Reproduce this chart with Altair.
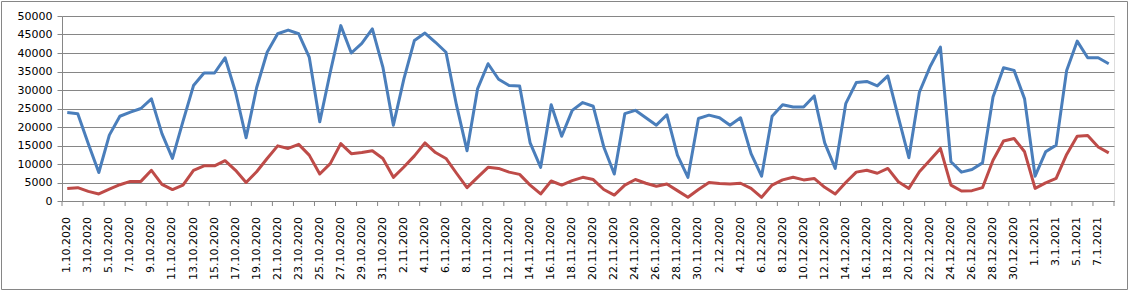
import altair as alt
import pandas as pd

# ---- data ----
start_date = "2020-10-01"
blue_values = [23900, 23600, 15500, 7700, 17800, 22900, 24000, 25000, 27600, 18200,
               11500, 21500, 31200, 34600, 34600, 38700, 29400, 17100, 30600, 40200,
               45200, 46200, 45200, 38900, 21400, 34800, 47400, 40000, 42600, 46500,
               36200, 20500, 33000, 43400, 45400, 42900, 40200, 25900, 13600, 30300,
               37100, 32900, 31200, 31100, 15700, 9100, 26000, 17500, 24500, 26600,
               25600, 14600, 7300, 23600, 24500, 22500, 20500, 23300, 12400, 6400,
               22300, 23200, 22500, 20500, 22500, 12800, 6700, 22900, 26000, 25400,
               25400, 28400, 15700, 8800, 26300, 32000, 32300, 31100, 33800, 22700,
               11700, 29400, 36200, 41600, 10600, 7800, 8500, 10300, 28100, 36000,
               35300, 27600, 6700, 13300, 15100, 35300, 43200, 38700, 38700, 37100]
red_values = [3400, 3600, 2600, 1900, 3200, 4400, 5300, 5300, 8300, 4500,
              3100, 4300, 8300, 9500, 9500, 10900, 8300, 5000, 7900, 11500,
              14900, 14200, 15300, 12400, 7300, 10100, 15500, 12800, 13100, 13600,
              11500, 6400, 9200, 12200, 15700, 13100, 11500, 7500, 3600, 6400,
              9100, 8800, 7800, 7200, 4300, 1900, 5400, 4300, 5500, 6400,
              5800, 3100, 1600, 4300, 5800, 4800, 4000, 4600, 2800, 1000,
              3100, 5000, 4700, 4600, 4800, 3400, 1000, 4300, 5700, 6400,
              5700, 6100, 3700, 1900, 5000, 7800, 8300, 7500, 8800, 5200,
              3400, 7900, 11000, 14200, 4300, 2700, 2800, 3600, 11000, 16200,
              16900, 13300, 3400, 4900, 6100, 12600, 17500, 17700, 14600, 13000]
y_ticks = list(range(0, 50001, 5000))

n = len(blue_values)
assert n == len(red_values) == 100
dates = pd.date_range(start_date, periods=n, freq="D")
date_labels = [f"{d.day}.{d.month}.{d.year}" for d in dates]

rows = []
for i in range(n):
    rows.append({"i": i, "date": date_labels[i], "series": "A", "value": blue_values[i]})
    rows.append({"i": i, "date": date_labels[i], "series": "B", "value": red_values[i]})
df = pd.DataFrame(rows)

label_df = pd.DataFrame({"i": list(range(0, n, 2)), "date": date_labels[0::2]})
tick_df = pd.DataFrame({"b": [k - 0.5 for k in range(0, n + 1, 2)]})

W, H = 1052, 185
GRAY = "#868686"
FONT = "DejaVu Sans"

xscale = alt.Scale(domain=[-0.5, n - 0.5], nice=False, zero=False)
yscale = alt.Scale(domain=[0, 50000], nice=False)

lines = alt.Chart(df).mark_line(strokeWidth=3, strokeJoin="round").encode(
    x=alt.X("i:Q", scale=xscale,
            axis=alt.Axis(title=None, labels=False, ticks=False, grid=False,
                          domain=True, domainColor=GRAY, domainWidth=1)),
    y=alt.Y("value:Q", scale=yscale,
            axis=alt.Axis(title=None, values=y_ticks, format="d", grid=True, gridColor=GRAY,
                          gridWidth=1, domainColor=GRAY, tickColor=GRAY, tickSize=5,
                          labelFont=FONT, labelFontSize=11, labelColor="#000000",
                          labelPadding=5)),
    color=alt.Color("series:N", legend=None,
                    scale=alt.Scale(domain=["A", "B"], range=["#4A7EBB", "#BE4B48"])),
    detail="series:N",
)

ticks = alt.Chart(tick_df).mark_rule(color=GRAY, strokeWidth=1).encode(
    x=alt.X("b:Q", scale=xscale),
    y=alt.value(H),
    y2=alt.value(H + 5),
)

labels = alt.Chart(label_df).mark_text(
    angle=270, align="right", baseline="middle", font=FONT, fontSize=11, color="#000000"
).encode(
    x=alt.X("i:Q", scale=xscale),
    y=alt.value(H + 16),
    text="date:N",
)

border = alt.Chart(pd.DataFrame({"k": [0]})).mark_rect(
    fill=None, stroke=GRAY, strokeWidth=1
).encode(
    x=alt.value(-60.5), x2=alt.value(1065.5), y=alt.value(-14.5), y2=alt.value(273.5)
)

chart = alt.layer(border, lines, ticks, labels).properties(
    width=W, height=H,
    autosize=alt.AutoSizeParams(type="none"),
    padding={"left": 62, "top": 16, "right": 16, "bottom": 90},
).configure_view(stroke=None).configure(background="#ffffff")

chart.save("out.html", embed_options={"renderer": "svg", "actions": False})
